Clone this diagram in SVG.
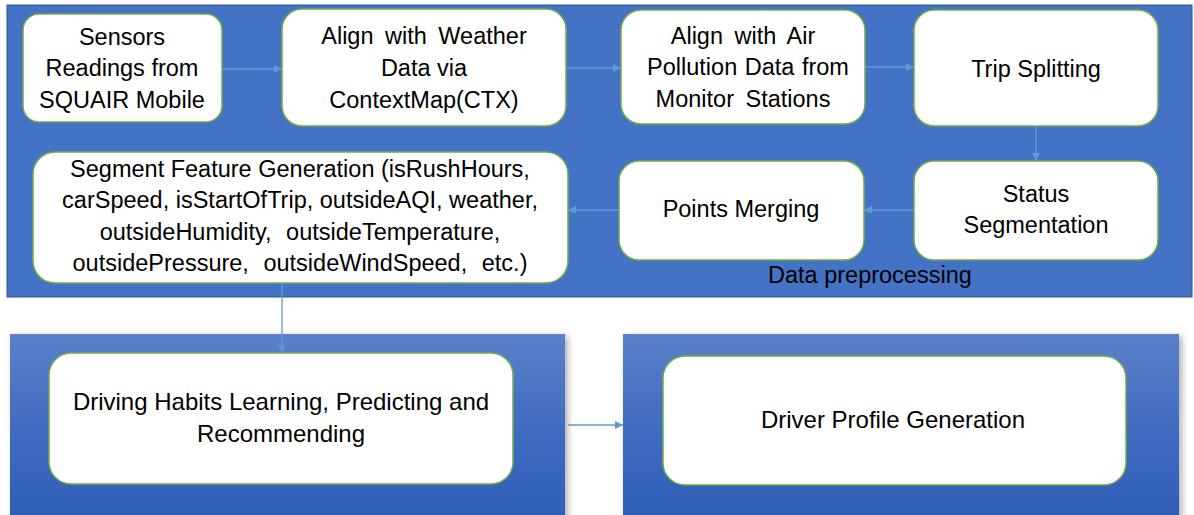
<svg xmlns="http://www.w3.org/2000/svg" width="1194" height="515" viewBox="0 0 1194 515">
  <defs>
    <linearGradient id="panelGrad" x1="0" y1="0" x2="0" y2="1">
      <stop offset="0" stop-color="#5B80CA"/>
      <stop offset="0.55" stop-color="#3F6AC0"/>
      <stop offset="1" stop-color="#2E5EB7"/>
    </linearGradient>
    <filter id="shadow" x="-5%" y="-5%" width="112%" height="115%">
      <feDropShadow dx="3" dy="2" stdDeviation="3" flood-color="#000" flood-opacity="0.3"/>
    </filter>
    <marker id="arrow" viewBox="0 0 10 10" refX="10" refY="5" markerWidth="9" markerHeight="8" markerUnits="userSpaceOnUse" orient="auto">
      <path d="M0,0 L10,5 L0,10 z" fill="#5B9BD5"/>
    </marker>
  </defs>
  <style>
    .panel { fill: #4472C4; stroke: #2F528F; stroke-width: 1; }
    .subpanel { fill: url(#panelGrad); filter: url(#shadow); }
    .node { fill: #FFFFFF; stroke: #70AD47; stroke-width: 1.5; }
    .label { font-family: "Liberation Sans", Arial, sans-serif; font-size: 23.5px; fill: #000; text-anchor: middle; }
    .label24 { font-family: "Liberation Sans", Arial, sans-serif; font-size: 24px; fill: #000; text-anchor: middle; }
    .caption { font-family: "Liberation Sans", Arial, sans-serif; font-size: 23.5px; fill: #000; }
    .wide { word-spacing: 5px; }
    .slight { word-spacing: 1px; }
    .wider { word-spacing: 8px; }
    .conn { stroke: #5B9BD5; stroke-width: 1.3; fill: none; marker-end: url(#arrow); }
  </style>

  <g id="data-preprocessing-panel">
    <rect class="panel" x="7" y="5" width="1185" height="292"/>
    <text class="caption" x="768" y="283">Data preprocessing</text>
  </g>
  <g id="learning-panel">
    <rect class="subpanel" x="10" y="334" width="555" height="185"/>
  </g>
  <g id="profile-panel">
    <rect class="subpanel" x="623" y="334" width="556" height="185"/>
  </g>

  <g id="connectors">
    <line class="conn" x1="222" y1="69" x2="282" y2="69"/>
    <line class="conn" x1="566" y1="68" x2="621" y2="68"/>
    <line class="conn" x1="865" y1="67" x2="914" y2="67"/>
    <line class="conn" x1="1036" y1="126" x2="1036" y2="161"/>
    <line class="conn" x1="914" y1="210" x2="864" y2="210"/>
    <line class="conn" x1="619" y1="210" x2="568" y2="210"/>
    <line class="conn" x1="282" y1="283" x2="282" y2="353"/>
    <line class="conn" x1="568" y1="425" x2="623" y2="425"/>
  </g>

  <g id="sensors">
    <rect class="node" x="23" y="14" width="199" height="108" rx="16"/>
    <text class="label" x="122" y="45">Sensors</text>
    <text class="label" x="122" y="76">Readings from</text>
    <text class="label" x="122" y="108">SQUAIR Mobile</text>
  </g>
  <g id="align-weather">
    <rect class="node" x="282" y="9" width="284" height="117" rx="20"/>
    <text class="label wide" x="424" y="44">Align with Weather</text>
    <text class="label" x="424" y="76">Data via</text>
    <text class="label" x="424" y="108">ContextMap(CTX)</text>
  </g>
  <g id="align-air">
    <rect class="node" x="621" y="10" width="244" height="114" rx="20"/>
    <text class="label wide" x="743" y="44">Align with Air</text>
    <text class="label slight" x="748" y="75">Pollution Data from</text>
    <text class="label wide" x="743" y="107">Monitor Stations</text>
  </g>
  <g id="trip-splitting">
    <rect class="node" x="914" y="10" width="244" height="116" rx="20"/>
    <text class="label" x="1036" y="77">Trip Splitting</text>
  </g>
  <g id="status-segmentation">
    <rect class="node" x="914" y="161" width="244" height="99" rx="20"/>
    <text class="label" x="1036" y="202">Status</text>
    <text class="label" x="1036" y="233">Segmentation</text>
  </g>
  <g id="points-merging">
    <rect class="node" x="619" y="161" width="245" height="99" rx="20"/>
    <text class="label" x="741" y="217">Points Merging</text>
  </g>
  <g id="segment-feature-generation">
    <rect class="node" x="33" y="152" width="535" height="131" rx="22"/>
    <text class="label" x="300" y="177">Segment Feature Generation (isRushHours,</text>
    <text class="label" x="300" y="208">carSpeed, isStartOfTrip, outsideAQI, weather,</text>
    <text class="label wider" x="300" y="240">outsideHumidity, outsideTemperature,</text>
    <text class="label wider" x="300" y="271">outsidePressure, outsideWindSpeed, etc.)</text>
  </g>
  <g id="driving-habits">
    <rect class="node" x="49" y="353" width="464" height="131" rx="22"/>
    <text class="label24" x="281" y="410">Driving Habits Learning, Predicting and</text>
    <text class="label24" x="281" y="442">Recommending</text>
  </g>
  <g id="driver-profile">
    <rect class="node" x="663" y="356" width="463" height="129" rx="22"/>
    <text class="label24" x="893" y="428">Driver Profile Generation</text>
  </g>
</svg>
